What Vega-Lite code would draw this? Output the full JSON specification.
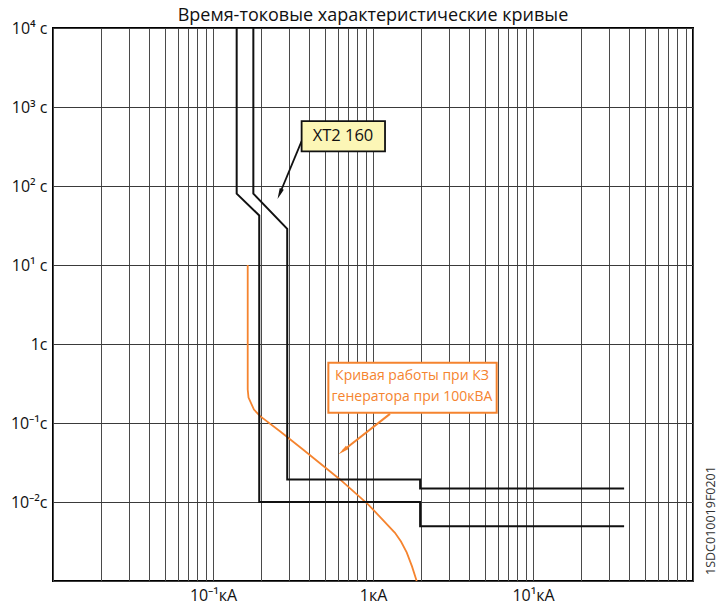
{
  "$schema": "https://vega.github.io/schema/vega-lite/v6.json",
  "width": 640,
  "height": 553,
  "autosize": "none",
  "padding": {"left": 53, "top": 28, "right": 26, "bottom": 26},
  "title": {"text": "Время-токовые характеристические кривые", "fontSize": 18, "font": "Open Sans", "fontWeight": "normal", "color": "#111111", "offset": 6, "dy": 11, "anchor": "middle", "frame": "group"},
  "config": {"view": {"stroke": "black", "strokeWidth": 2}, "font": "Open Sans"},
  "encoding": {
    "x": {
      "field": "i", "type": "quantitative",
      "scale": {"type": "log", "domain": [0.01, 100], "nice": false},
      "axis": {
        "title": null,
        "values": [0.01, 0.02, 0.03, 0.04, 0.05, 0.06, 0.07, 0.08, 0.09, 0.1, 0.2, 0.3, 0.4, 0.5, 0.6, 0.7, 0.8, 0.9, 1, 2, 3, 4, 5, 6, 7, 8, 9, 10, 20, 30, 40, 50, 60, 70, 80, 90, 100],
        "grid": true, "gridColor": "#4a4a4a", "gridWidth": 1,
        "domain": false, "ticks": false,
        "labelExpr": "abs(datum.value-0.1)<1e-9 ? '10⁻¹кА' : abs(datum.value-1)<1e-9 ? '1кА' : abs(datum.value-10)<1e-9 ? '10¹кА' : ''",
        "labelFontSize": 16, "labelFont": "Open Sans", "labelColor": "#111111",
        "labelPadding": 6, "labelOverlap": false, "labelFlush": false
      }
    },
    "y": {
      "field": "t", "type": "quantitative",
      "scale": {"type": "log", "domain": [0.001, 10000], "nice": false},
      "axis": {
        "title": null,
        "values": [0.001, 0.01, 0.1, 1, 10, 100, 1000, 10000],
        "grid": true, "gridColor": "#3a3a3a", "gridWidth": 1,
        "domain": false, "ticks": false,
        "labelExpr": "datum.value >= 9999 ? '10⁴ с' : datum.value >= 999 ? '10³ с' : datum.value >= 99 ? '10² с' : datum.value >= 9 ? '10¹ с' : datum.value >= 0.9 ? '1с' : datum.value >= 0.09 ? '10⁻¹с' : datum.value >= 0.009 ? '10⁻²с' : ''",
        "labelFontSize": 16, "labelFont": "Open Sans", "labelColor": "#111111",
        "labelPadding": 6, "labelOverlap": false, "labelFlush": false
      }
    }
  },
  "layer": [
    {
      "data": {"values": [
        {"o": 1, "i": 0.1648, "t": 10},
        {"o": 2, "i": 0.1648, "t": 0.265},
        {"o": 3, "i": 0.1667, "t": 0.21},
        {"o": 4, "i": 0.1803, "t": 0.148},
        {"o": 5, "i": 0.197, "t": 0.122},
        {"o": 6, "i": 0.262, "t": 0.0787},
        {"o": 7, "i": 0.365, "t": 0.0462},
        {"o": 8, "i": 0.622, "t": 0.0193},
        {"o": 9, "i": 0.935, "t": 0.00929},
        {"o": 10, "i": 1.372, "t": 0.00407},
        {"o": 11, "i": 1.496, "t": 0.00316},
        {"o": 12, "i": 1.624, "t": 0.0023},
        {"o": 13, "i": 1.753, "t": 0.00153},
        {"o": 14, "i": 1.875, "t": 0.001}
      ]},
      "mark": {"type": "line", "color": "#f5842f", "strokeWidth": 1.8},
      "encoding": {"order": {"field": "o", "type": "quantitative"}}
    },
    {
      "data": {"values": [
        {"s": "A", "o": 1, "i": 0.1406, "t": 10000},
        {"s": "A", "o": 2, "i": 0.1406, "t": 80},
        {"s": "A", "o": 3, "i": 0.1945, "t": 42.4},
        {"s": "A", "o": 4, "i": 0.1945, "t": 0.01},
        {"s": "A", "o": 5, "i": 1.97, "t": 0.01},
        {"s": "A", "o": 6, "i": 1.97, "t": 0.00494},
        {"s": "A", "o": 7, "i": 37.1, "t": 0.00494},
        {"s": "B", "o": 1, "i": 0.1787, "t": 10000},
        {"s": "B", "o": 2, "i": 0.1787, "t": 80},
        {"s": "B", "o": 3, "i": 0.291, "t": 28.7},
        {"s": "B", "o": 4, "i": 0.291, "t": 0.0193},
        {"s": "B", "o": 5, "i": 1.97, "t": 0.0193},
        {"s": "B", "o": 6, "i": 1.97, "t": 0.0148},
        {"s": "B", "o": 7, "i": 37.1, "t": 0.0148}
      ]},
      "mark": {"type": "line", "color": "#111111", "strokeWidth": 2},
      "encoding": {"detail": {"field": "s", "type": "nominal"}, "order": {"field": "o", "type": "quantitative"}}
    },
    {
      "data": {"values": [{"i": 0.358, "t": 369, "i2": 0.261, "t2": 79.2}]},
      "mark": {"type": "rule", "color": "#111111", "strokeWidth": 1.8},
      "encoding": {"x2": {"field": "i2"}, "y2": {"field": "t2"}}
    },
    {
      "data": {"values": [{"i": 0.261, "t": 79.2}]},
      "mark": {"type": "point", "shape": "M0,-1L0.4,1L-0.4,1Z", "size": 121, "filled": true, "opacity": 1, "color": "#111111", "angle": 202.7},
      "encoding": {}
    },
    {
      "data": {"values": [{"i": 0.358, "t": 661, "i2": 1.189, "t2": 275}]},
      "mark": {"type": "rect", "fill": "#fcf6b6", "stroke": "#111111", "strokeWidth": 1.8},
      "encoding": {"x2": {"field": "i2"}, "y2": {"field": "t2"}}
    },
    {
      "data": {"values": [{"i": 0.649, "t": 424, "text": "XT2 160"}]},
      "mark": {"type": "text", "fontSize": 16.5, "font": "Open Sans", "color": "#111111", "align": "center", "baseline": "middle"},
      "encoding": {"text": {"field": "text"}}
    },
    {
      "data": {"values": [{"i": 1.277, "t": 0.1306, "i2": 0.649, "t2": 0.0445}]},
      "mark": {"type": "rule", "color": "#f5842f", "strokeWidth": 2},
      "encoding": {"x2": {"field": "i2"}, "y2": {"field": "t2"}}
    },
    {
      "data": {"values": [{"i": 0.649, "t": 0.0445}]},
      "mark": {"type": "point", "shape": "M0,-1L0.4,1L-0.4,1Z", "size": 121, "filled": true, "opacity": 1, "color": "#f5842f", "angle": 231.8},
      "encoding": {}
    },
    {
      "data": {"values": [{"i": 0.526, "t": 0.578, "i2": 5.93, "t2": 0.1346}]},
      "mark": {"type": "rect", "fill": "white", "stroke": "#f5842f", "strokeWidth": 2},
      "encoding": {"x2": {"field": "i2"}, "y2": {"field": "t2"}}
    },
    {
      "data": {"values": [
        {"i": 1.753, "t": 0.399, "text": "Кривая работы при КЗ"},
        {"i": 1.753, "t": 0.2104, "text": "генератора при 100кВА"}
      ]},
      "mark": {"type": "text", "fontSize": 14, "font": "Open Sans", "color": "#f5842f", "align": "center", "baseline": "middle"},
      "encoding": {"text": {"field": "text"}}
    },
    {
      "data": {"values": [{"i": 129, "t": 0.00583, "text": "1SDC010019F0201"}]},
      "mark": {"type": "text", "fontSize": 12.5, "font": "Open Sans", "color": "#333333", "align": "center", "baseline": "middle", "angle": 270},
      "encoding": {"text": {"field": "text"}}
    }
  ]
}
